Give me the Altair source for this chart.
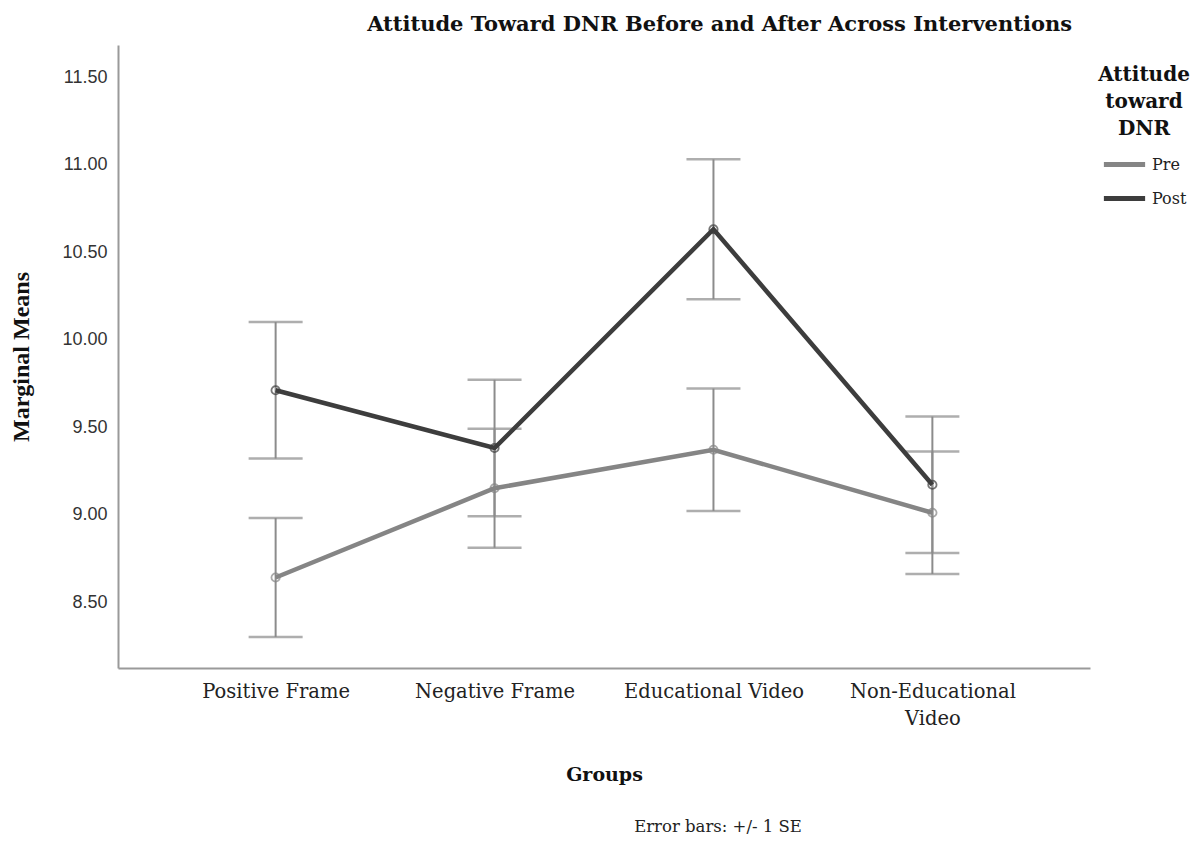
import altair as alt
import pandas as pd

groups = ["Positive Frame", "Negative Frame", "Educational Video", "Non-Educational Video"]
series = ["Pre", "Post"]
pre_mean = [8.64, 9.15, 9.37, 9.01]
pre_se = [0.34, 0.34, 0.35, 0.35]
post_mean = [9.71, 9.38, 10.63, 9.17]
post_se = [0.39, 0.39, 0.40, 0.39]
y_ticks = [8.5, 9.0, 9.5, 10.0, 10.5, 11.0, 11.5]

rows = []
for s, means, ses in [("Pre", pre_mean, pre_se), ("Post", post_mean, post_se)]:
    for g, m, e in zip(groups, means, ses):
        rows.append({"group": g, "series": s, "mean": m, "lo": m - e, "hi": m + e})
df = pd.DataFrame(rows)

SERIF = "DejaVu Serif"
x_enc = alt.X(
    "group:N",
    sort=groups,
    scale=alt.Scale(type="point", padding=0.72),
    axis=alt.Axis(
        title="Groups",
        titleFont=SERIF,
        titleFontSize=19,
        titleFontWeight="bold",
        titleColor="#111",
        titlePadding=38,
        labelFont=SERIF,
        labelFontSize=19.5,
        labelColor="#222",
        labelPadding=14,
        labelAngle=0,
        labelLineHeight=27,
        labelExpr="datum.label == 'Non-Educational Video' ? ['Non-Educational', 'Video'] : datum.label",
        ticks=False,
        domainColor="#9a9a9a",
        domainWidth=2,
        grid=False,
    ),
)
y_scale = alt.Scale(domain=[8.123, 11.683], nice=False, zero=False)
y_enc = alt.Y(
    "mean:Q",
    scale=y_scale,
    axis=alt.Axis(
        title="Marginal Means",
        titleFont="Liberation Serif",
        titleFontSize=24,
        titleFontWeight="bold",
        titleColor="#111",
        titlePadding=28,
        values=y_ticks,
        format=".2f",
        labelFont="Liberation Sans",
        labelFontSize=18,
        labelColor="#333",
        labelPadding=11,
        ticks=False,
        domainColor="#9a9a9a",
        domainWidth=2,
        grid=False,
    ),
)

color_scale = alt.Scale(domain=series, range=["#858585", "#3d3d3d"])

base = alt.Chart(df)

bars = base.mark_rule(color="#8c8c8c", strokeWidth=2).encode(
    x=x_enc, y=alt.Y("lo:Q", scale=y_scale), y2="hi:Q"
)
caps_lo = base.mark_tick(color="#8c8c8c", thickness=2.5, size=54).encode(
    x=x_enc, y=alt.Y("lo:Q", scale=y_scale)
)
caps_hi = base.mark_tick(color="#8c8c8c", thickness=2.5, size=54).encode(
    x=x_enc, y=alt.Y("hi:Q", scale=y_scale)
)
lines = base.mark_line(strokeWidth=4.5).encode(
    x=x_enc,
    y=y_enc,
    detail="series:N",
    color=alt.Color(
        "series:N",
        scale=color_scale,
        sort=series,
        legend=alt.Legend(
            title=["Attitude", "toward", "DNR"],
            titleFont=SERIF,
            titleFontSize=20,
            titleFontWeight="bold",
            titleColor="#111",
            titleAlign="center",
            titleAnchor="middle",
            titleLineHeight=27,
            titlePadding=2,
            labelFont=SERIF,
            labelFontSize=16,
            labelColor="#222",
            symbolType="stroke",
            symbolStrokeWidth=5,
            symbolSize=1700,
            orient="none",
            legendX=980,
            legendY=20,
            rowPadding=-23,
        ),
    ),
)
points = base.mark_point(filled=False, size=70, strokeWidth=1.8).encode(
    x=x_enc,
    y=y_enc,
    color=alt.Color("series:N", scale=color_scale, legend=None),
)
note = alt.Chart(pd.DataFrame({"t": ["Error bars: +/- 1 SE"]})).mark_text(
    font=SERIF, fontSize=16.5, color="#222", align="center", baseline="middle"
).encode(text="t:N", x=alt.value(600), y=alt.value(782))

chart = (
    alt.layer(bars, caps_lo, caps_hi, lines, points, note)
    .properties(
        width=972,
        height=623,
        autosize=alt.AutoSizeParams(type="none"),
        padding={"left": 110, "top": 37, "right": 100, "bottom": 172},
        view=alt.ViewBackground(stroke="transparent", strokeWidth=0),
        title=alt.TitleParams(
            "Attitude Toward DNR Before and After Across Interventions",
            font=SERIF,
            fontSize=21,
            fontWeight="bold",
            color="#111",
            anchor="end",
            frame="group",
            dx=-18,
            offset=10,
        ),
    )
    .configure_view(stroke="transparent", strokeWidth=0)
    .configure(background="white")
)

chart.save("out.html", embed_options={"renderer": "svg", "actions": False})
